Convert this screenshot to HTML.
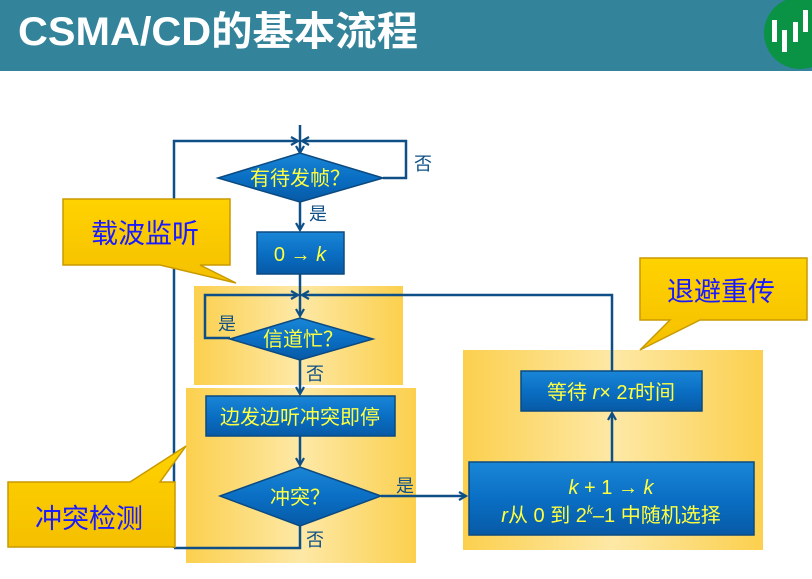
<!DOCTYPE html>
<html><head><meta charset="utf-8"><style>
html,body{margin:0;padding:0;background:#fff;}
svg{display:block;font-family:"Liberation Sans","Noto Sans CJK SC",sans-serif;}
</style></head><body>
<svg width="812" height="579" viewBox="0 0 812 579" xmlns="http://www.w3.org/2000/svg">
<defs>
<linearGradient id="pan" x1="0" x2="1" y1="0" y2="0">
<stop offset="0" stop-color="#fcd04e"/><stop offset="0.5" stop-color="#fde8a6"/><stop offset="1" stop-color="#fcd04e"/>
</linearGradient>
<linearGradient id="blu" x1="0" x2="0" y1="0" y2="1">
<stop offset="0" stop-color="#1a86d6"/><stop offset="0.5" stop-color="#0a6fc4"/><stop offset="1" stop-color="#075aa6"/>
</linearGradient>
<linearGradient id="yel" x1="0" x2="0" y1="0" y2="1">
<stop offset="0" stop-color="#ffd200"/><stop offset="1" stop-color="#f5c000"/>
</linearGradient>
<marker id="ar" markerWidth="10" markerHeight="10" refX="8" refY="5" orient="auto" markerUnits="userSpaceOnUse">
<path d="M1,1 L8,5 L1,9" fill="none" stroke="#0d4f86" stroke-width="2.2"/>
</marker>
</defs>
<rect x="0" y="0" width="812" height="71" fill="#33849a"/>
<text x="18" y="45" font-size="40" font-weight="bold" fill="#fff" textLength="400" lengthAdjust="spacingAndGlyphs">CSMA/CD的基本流程</text>
<circle cx="800" cy="33" r="36" fill="#0a9245"/>
<rect x="772" y="20" width="5" height="22" fill="#fff"/><rect x="782" y="30" width="5" height="22" fill="#fff"/>
<rect x="793" y="22" width="5" height="20" fill="#fff"/><rect x="803" y="10" width="5" height="22" fill="#fff"/>

<rect x="194" y="286" width="209" height="99" fill="url(#pan)"/>
<rect x="186" y="388" width="230" height="175" fill="url(#pan)"/>
<rect x="463" y="350" width="300" height="200" fill="url(#pan)"/>

<g fill="none" stroke="#0d4f86" stroke-width="2.5">
<line x1="300" y1="125" x2="300" y2="153" marker-end="url(#ar)"/>
<polyline points="174,548 174,141 298,141" marker-end="url(#ar)"/>
<polyline points="383,178 406,178 406,141 302,141" marker-end="url(#ar)"/>
<line x1="300" y1="202" x2="300" y2="230" marker-end="url(#ar)"/>
<line x1="300" y1="274" x2="300" y2="316" marker-end="url(#ar)"/>
<polyline points="230,338 205,338 205,295 298,295" marker-end="url(#ar)"/>
<polyline points="612,371 612,295 302,295" marker-end="url(#ar)"/>
<line x1="300" y1="360" x2="300" y2="394" marker-end="url(#ar)"/>
<line x1="300" y1="436" x2="300" y2="465" marker-end="url(#ar)"/>
<line x1="381" y1="496" x2="466" y2="496" marker-end="url(#ar)"/>
<polyline points="300,526 300,548 174,548"/>
<line x1="612" y1="462" x2="612" y2="413" marker-end="url(#ar)"/>
</g>

<g stroke="#0b4a80" stroke-width="1.5">
<polygon points="218,178 300,153 383,178 300,202" fill="url(#blu)"/>
<rect x="257" y="232" width="87" height="42" fill="url(#blu)"/>
<polygon points="230,339 300,318 373,339 300,360" fill="url(#blu)"/>
<rect x="206" y="396" width="189" height="40" fill="url(#blu)"/>
<polygon points="220,496 300,467 381,496 300,526" fill="url(#blu)"/>
<rect x="521" y="371" width="181" height="40" fill="url(#blu)"/>
<rect x="469" y="462" width="285" height="73" fill="url(#blu)"/>
</g>

<g fill="#ffff40" font-size="20" text-anchor="middle">
<text x="300" y="185">有待发帧？</text>
<text x="300" y="261">0 → <tspan font-style="italic">k</tspan></text>
<text x="303" y="346">信道忙？</text>
<text x="300" y="424">边发边听冲突即停</text>
<text x="300" y="504">冲突？</text>
<text x="611" y="399">等待 <tspan font-style="italic">r</tspan>× 2<tspan font-style="italic">τ</tspan>时间</text>
<text x="611" y="494"><tspan font-style="italic">k</tspan> + 1 → <tspan font-style="italic">k</tspan></text>
<text x="611" y="522"><tspan font-style="italic">r</tspan>从 0 到 2<tspan font-size="12" dy="-8" font-style="italic">k</tspan><tspan dy="8">–1 中随机选择</tspan></text>
</g>
<g fill="#0d4f86" font-size="18">
<text x="414" y="170">否</text>
<text x="309" y="220">是</text>
<text x="218" y="330">是</text>
<text x="306" y="380">否</text>
<text x="396" y="492">是</text>
<text x="306" y="546">否</text>
</g>

<g stroke="#c99a00" stroke-width="1.5" fill="url(#yel)">
<path d="M63,199 H230 V265 H200 L236,283 L160,265 H63 Z"/>
<path d="M640,258 H807 V320 H700 L640,350 L670,320 H640 Z"/>
<path d="M8,482 H130 L186,446 L160,482 H175 V547 H8 Z"/>
</g>
<g fill="#1a1aff" font-size="27">
<text x="91" y="243">载波监听</text>
<text x="667" y="301">退避重传</text>
<text x="35" y="528">冲突检测</text>
</g>
</svg>
</body></html>
